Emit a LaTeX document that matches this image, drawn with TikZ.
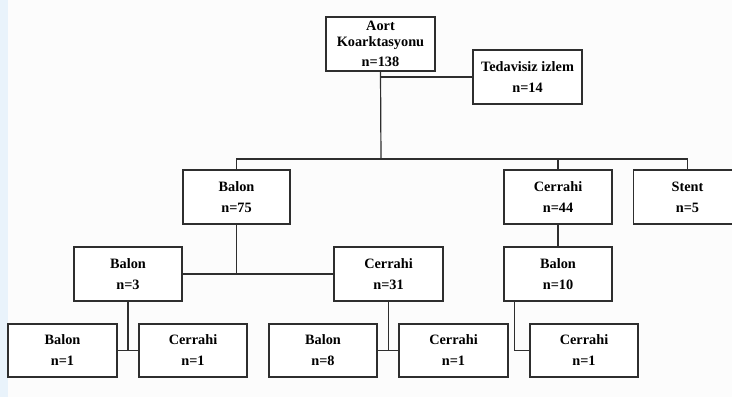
\documentclass[tikz,border=0pt]{standalone}
\usepackage{fontspec}
\setmainfont{Liberation Serif}
\definecolor{pagebg}{HTML}{FCFCFC}
\definecolor{sidestrip}{HTML}{E9F3FB}
\definecolor{ink}{HTML}{2E2E2E}
\begin{document}
\begin{tikzpicture}[x=1pt,y=-1pt,
  box/.style={draw=ink,line width=1.3pt,fill=white,minimum width=108pt,minimum height=54pt,
    inner sep=0pt,align=center,text=black,
    font=\fontsize{14.3}{16}\selectfont\bfseries},
  link/.style={draw=ink,line width=1.2pt}]
  % page
  \useasboundingbox (0,0) rectangle (732,397);
  \clip (0,0) rectangle (732,397);
  \fill[pagebg] (0,0) rectangle (732,397);
  \fill[sidestrip] (0,0) rectangle (7.5,397);

  % level 1
  \node[box,minimum width=109pt] (root) at (380.5,44) {Aort\\Koarktasyonu\\[4pt]n=138};
  \node[box,minimum width=109pt] (izlem) at (527.5,77) {Tedavisiz izlem\\[5pt]n=14};
  % level 2
  \node[box,minimum width=107pt] (balon75) at (236.5,197) {Balon\\[5pt]n=75};
  \node[box] (cerrahi44) at (558,197) {Cerrahi\\[5pt]n=44};
  \node[box] (stent) at (687.5,197) {Stent\\[5pt]n=5};
  % level 3
  \node[box] (balon3) at (128,274) {Balon\\[5pt]n=3};
  \node[box,minimum width=109pt] (cerrahi31) at (388.5,274) {Cerrahi\\[5pt]n=31};
  \node[box] (balon10) at (558,274) {Balon\\[5pt]n=10};
  % level 4
  \node[box,minimum width=109pt,minimum height=53pt] (balon1) at (62.5,350.5) {Balon\\[5pt]n=1};
  \node[box,minimum height=53pt] (cerrahi1a) at (193,350.5) {Cerrahi\\[5pt]n=1};
  \node[box,minimum height=53pt] (balon8) at (323,350.5) {Balon\\[5pt]n=8};
  \node[box,minimum width=109pt,minimum height=53pt] (cerrahi1b) at (453.5,350.5) {Cerrahi\\[5pt]n=1};
  \node[box,minimum height=53pt] (cerrahi1c) at (584,350.5) {Cerrahi\\[5pt]n=1};

  % trunk and main bus
  \coordinate (bus) at (381,159);
  \draw[link] (root.south) -- (bus);
  \draw[link] (izlem.west) -- (izlem.west -| root.south);
  \draw[link] (balon75.north) |- (bus) -| (stent.north);
  \draw[link] (cerrahi44.north) -- (cerrahi44.north |- bus);

  % second split
  \draw[link] (balon3.east) -- (cerrahi31.west);
  \draw[link] (balon75.south) -- (balon75.south |- balon3.east);
  \draw[link] (cerrahi44.south) -- (balon10.north);

  % third split
  \draw[link] (balon1.east) -- (cerrahi1a.west);
  \draw[link] (balon3.south) -- (balon3.south |- balon1.east);
  \draw[link] (balon8.east) -- (cerrahi1b.west);
  \draw[link] (cerrahi31.south) -- (cerrahi31.south |- balon8.east);
  \draw[link] ([xshift=11pt]balon10.south west) |- (cerrahi1c.west);
\end{tikzpicture}
\end{document}
